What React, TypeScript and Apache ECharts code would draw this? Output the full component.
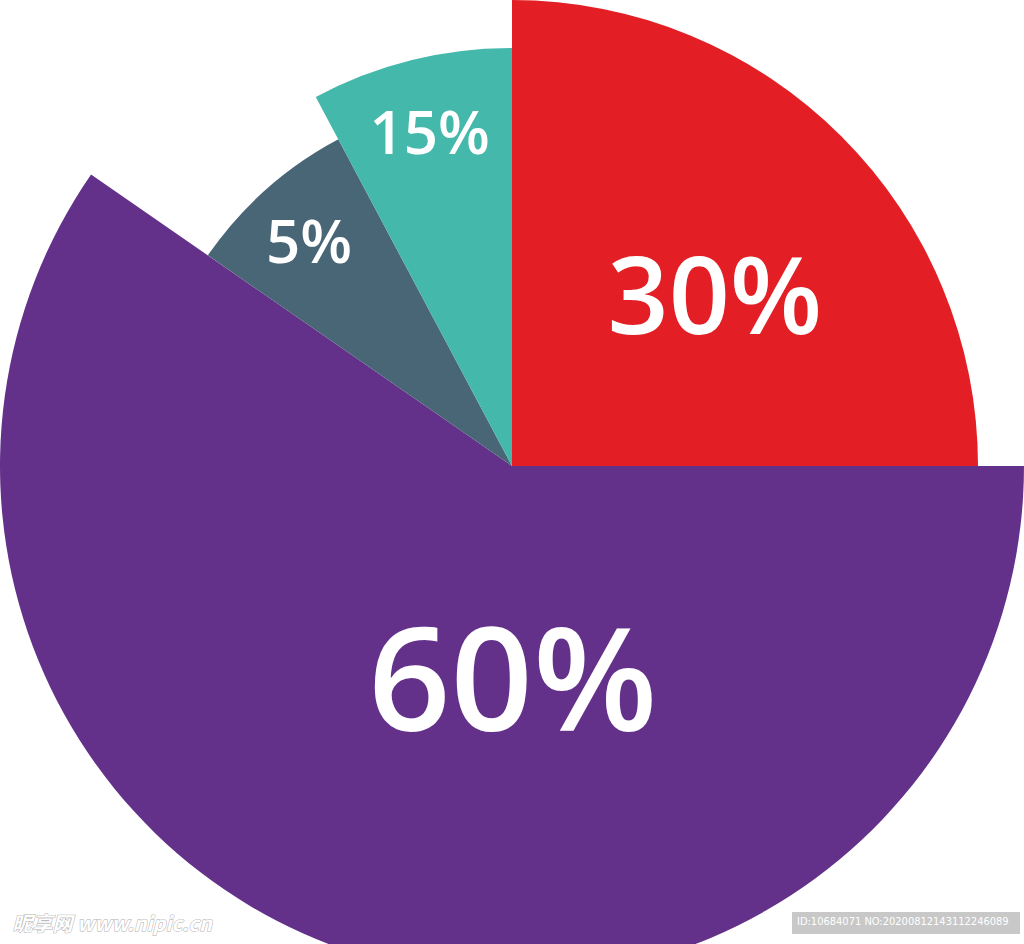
import React, { useEffect, useRef } from "react";
import * as echarts from "echarts";

// Slice names / labels as printed in the picture
const sliceNames = ["Red", "Purple", "Slate", "Teal"];
const sliceLabels = ["30%", "60%", "5%", "15%"];
// Angular share of each slice as drawn (degrees, clockwise from 12 o'clock)
const sliceAngles = [90, 214.7, 27.3, 28];
// Outer radius of each slice as drawn (px)
const sliceRadii = [466, 512, 370, 418];
const sliceColors = ["#E31E24", "#64318A", "#496677", "#45B8AC"];
const labelSizes = [107, 144, 60, 60];
// label nudges from the default inside position
const labelShift = [
  [36, -7],
  [78, -38],
  [-78, -86],
  [-31, -129],
];

export default function App() {
  const ref = useRef<HTMLDivElement>(null);
  useEffect(() => {
    if (!ref.current) return;
    const chart = echarts.init(ref.current, undefined, { renderer: "svg" });
    const series = sliceNames.map((_, i) => ({
      type: "pie",
      center: [512, 466],
      radius: [0, sliceRadii[i]],
      startAngle: 90,
      clockwise: true,
      silent: true,
      z: 2,
      labelLine: { show: false },
      labelLayout: (p: any) =>
        p.dataIndex === i ? { dx: labelShift[i][0], dy: labelShift[i][1] } : {},
      data: sliceAngles.map((v, j) => ({
        value: v,
        name: sliceNames[j],
        itemStyle: {
          color: j === i ? sliceColors[i] : "rgba(0,0,0,0)",
          borderWidth: 0,
        },
        label: {
          show: j === i,
          position: "inside",
          formatter: sliceLabels[j],
          color: "#ffffff",
          fontFamily: "Open Sans",
          fontWeight: 600,
          fontSize: labelSizes[j],
        },
      })),
    }));
    chart.setOption({
      animation: false,
      backgroundColor: "#ffffff",
      series,
      graphic: [
        {
          type: "text",
          left: 12,
          top: 912,
          z: 10,
          style: {
            text: "昵享网 www.nipic.cn",
            font: "italic bold 20px 'Noto Sans CJK SC', sans-serif",
            fill: "#ffffff",
            stroke: "#b0b0b0",
            lineWidth: 1,
          },
        },
        {
          type: "rect",
          left: 792,
          top: 912,
          z: 10,
          shape: { width: 228, height: 22 },
          style: { fill: "#c8c8c8" },
        },
        {
          type: "text",
          left: 797,
          top: 916,
          z: 11,
          style: {
            text: "ID:10684071 NO:20200812143112246089",
            font: "11px 'Liberation Sans Narrow', 'DejaVu Sans Condensed', sans-serif",
            fill: "#ffffff",
          },
        },
      ],
    });
    return () => chart.dispose();
  }, []);
  return (
    <div
      ref={ref}
      style={{ position: "absolute", left: 0, top: 0, width: 1024, height: 944 }}
    />
  );
}
